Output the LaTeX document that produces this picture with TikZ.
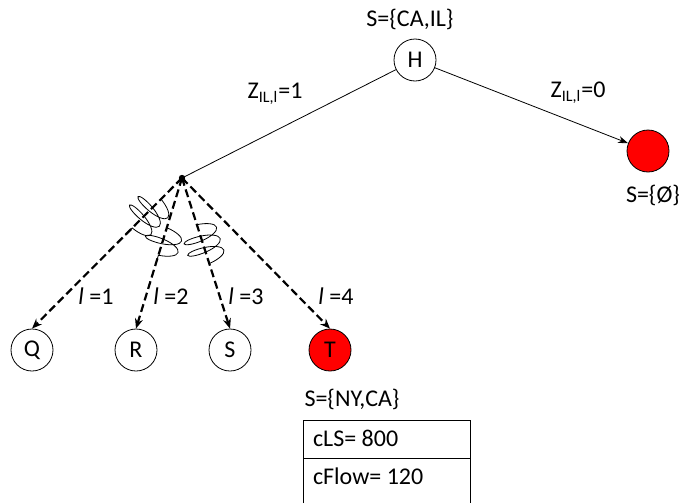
\documentclass[tikz,border=0pt]{standalone}
\usepackage{fontspec}
\setmainfont{Carlito}
\usetikzlibrary{arrows.meta,calc,decorations.pathmorphing}

\begin{document}
\begin{tikzpicture}[x=0.5pt,y=-0.5pt,font=\fontsize{12}{14}\selectfont,
		state/.style={draw,circle,minimum size=21pt,inner sep=0pt},
		hit/.style={state,fill=red},
		branch/.style={line width=1.1pt,dash pattern=on 4pt off 2pt,-{Stealth[length=5pt,width=4pt]}},
		spring/.style={decorate,decoration={coil,amplitude=9pt,segment length=6pt,aspect=0.3}}]
		\useasboundingbox (0,0) rectangle (683,503);

		% root and the two outcomes of Z
		\node[state] (H) at (415,60) {H};
		\node[hit] (empty) at (648,151) {};
		\fill (182,178) circle (1.6pt) coordinate (split);

		\node (sH) at (410,19) {S=\{CA,IL\}};
		\node (sEmpty) at (653,195) {S=\{Ø\}};
		\node (zOne) at (275,94) {Z\textsubscript{IL,l}=1};
		\node (zZero) at (578,93) {Z\textsubscript{IL,l}=0};

		\draw[thin] (H) -- (split);
		\draw[thin,-{Stealth[length=5pt,width=3.5pt]}] (H) -- (empty);

		% children of the split point
		\node[state] (Q) at (32,350) {Q};
		\node[state] (R) at (136,350) {R};
		\node[state] (S) at (230,350) {S};
		\node[hit] (T) at (330,350) {T};

		\draw[branch] (split) -- (Q.north);
		\draw[branch] (split) -- (R.north);
		\draw[branch] (split) -- (S.north);
		\draw[branch] (split) -- (T.north);

		\node (lOne) at (96,296) {\textit{l} =1};
		\node (lTwo) at (171,296) {\textit{l} =2};
		\node (lThree) at (246,296) {\textit{l} =3};
		\node (lFour) at (336,296) {\textit{l} =4};

		% cut marks on the first three branches
		\draw[spring] ($(split)!0.14!(Q.north)$) -- ($(split)!0.38!(Q.north)$);
		\draw[spring] ($(split)!0.33!(R.north)$) -- ($(split)!0.58!(R.north)$);
		\draw[spring] ($(split)!0.31!(S.north)$) -- ($(split)!0.58!(S.north)$);

		% state of T
		\node (sT) at (352,399) {S=\{NY,CA\}};
		\draw (303,503) |- (470,420) -- (470,503);
		\draw (303,458) -- (470,458);
		\node[anchor=west] (cLS) at (306,438) {cLS= 800};
		\node[anchor=west] (cFlow) at (306,476) {cFlow= 120};

	\end{tikzpicture}
\end{document}
